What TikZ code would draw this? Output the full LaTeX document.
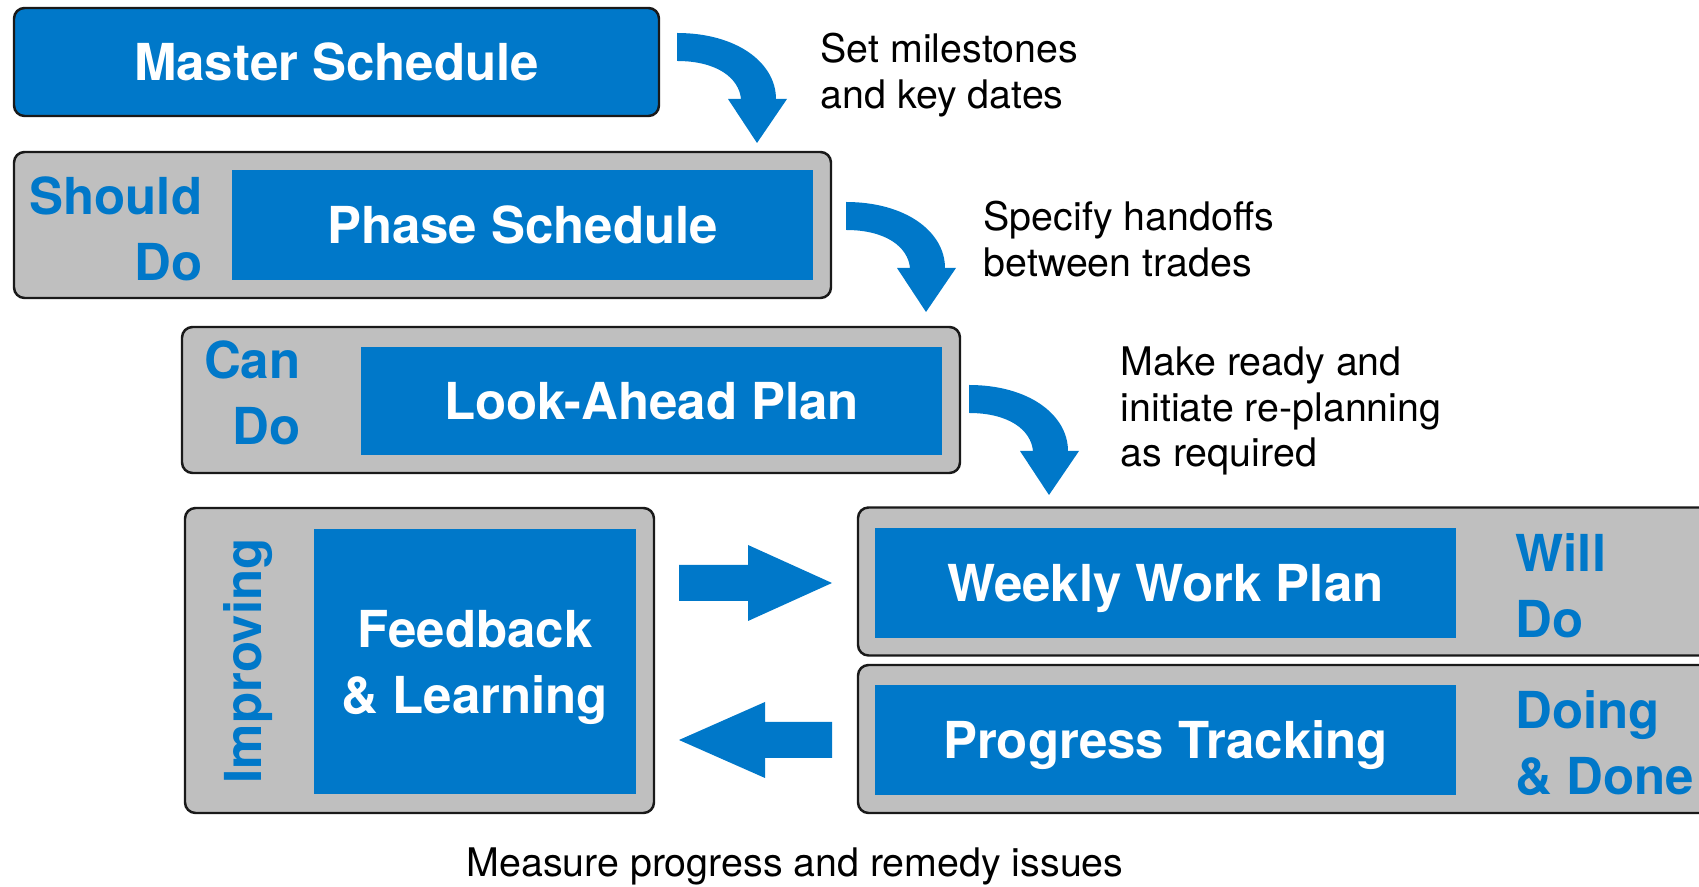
\documentclass[tikz,border=0pt]{standalone}
\usepackage{fontspec}
\setmainfont{TeX Gyre Heros}
\usepackage{tikz}
\usepackage{xcolor}
\definecolor{planblue}{RGB}{0,120,201}
\definecolor{stagegray}{RGB}{191,191,191}

\tikzset{
	stage/.style={draw=black!90, line width=0.7pt, fill=stagegray, rounded corners=3pt, inner sep=0pt},
	plan/.style={fill=planblue, text=white, inner sep=0pt, align=center, text depth=0pt, font=\bfseries\fontsize{14.5}{18.8}\selectfont},
	tag/.style={text=planblue, inner sep=0pt, font=\bfseries\fontsize{14.5}{18.8}\selectfont},
	note/.style={anchor=west, inner sep=0pt, align=left, font=\fontsize{11.2}{12.9}\selectfont},
	bandarrow/.style={fill=planblue}
}

\begin{document}
\begin{tikzpicture}[x=1cm, y=-1cm]
		\useasboundingbox (0,0) rectangle (16.99,8.87);
		\clip (0,0) rectangle (16.99,8.87);

		\node[plan, draw=black!90, line width=0.7pt, rounded corners=3pt, minimum width=6.45cm, minimum height=1.08cm] (master) at (3.365,0.62) {Master Schedule};

		\node[stage, minimum width=8.17cm, minimum height=1.46cm] (phase) at (4.225,2.25) {};
		\node[plan, minimum width=5.81cm, minimum height=1.10cm] (phaseIn) at (5.225,2.25) {Phase Schedule};
		\node[tag, align=right, anchor=east] (phaseTag) at (2.03,2.29) {Should\\Do};

		\node[stage, minimum width=7.78cm, minimum height=1.46cm] (look) at (5.71,4.00) {};
		\node[plan, minimum width=5.81cm, minimum height=1.08cm] (lookIn) at (6.515,4.01) {Look-Ahead Plan};
		\node[tag, align=right, anchor=east] (lookTag) at (3.01,3.93) {Can\\Do};

		\node[stage, minimum width=4.69cm, minimum height=3.05cm] (fbk) at (4.195,6.605) {};
		\node[plan, minimum width=3.22cm, minimum height=2.65cm] (fbkIn) at (4.75,6.615) {Feedback\\\& Learning};
		\node[tag, rotate=90] (fbkTag) at (2.485,6.61) {Improving};

		\node[stage, minimum width=8.72cm, minimum height=1.48cm] (weekly) at (12.94,5.815) {};
		\node[plan, minimum width=5.81cm, minimum height=1.10cm] (weeklyIn) at (11.655,5.83) {Weekly Work Plan};
		\node[tag, align=left, anchor=west] (weeklyTag) at (15.15,5.855) {Will\\Do};

		\node[stage, minimum width=8.72cm, minimum height=1.48cm] (prog) at (12.94,7.39) {};
		\node[plan, minimum width=5.81cm, minimum height=1.10cm] (progIn) at (11.655,7.40) {Progress Tracking};
		\node[tag, align=left, anchor=west] (progTag) at (15.15,7.435) {Doing\\\& Done};

		\node[note] (setNote) at (8.20,0.75) {Set milestones\\and key dates};
		\node[note] (handNote) at (9.83,2.39) {Specify handoffs\\between trades};
		\node[note] (readyNote) at (11.20,4.11) {Make ready and\\initiate re-planning\\as required};
		\node[font=\fontsize{11.2}{12.9}\selectfont, inner sep=0pt] (measureNote) at (7.95,8.66) {Measure progress and remedy issues};

		\coordinate (bend1) at (6.77,0.33);
		\coordinate (bend2) at (8.46,2.02);
		\coordinate (bend3) at (9.69,3.85);
		\foreach \c in {bend1,bend2,bend3}{
			\fill[bandarrow, shift={(\c)}] (0,0) .. controls (0.6,0) and (0.99,0.3) .. (0.99,0.66) -- (1.10,0.66) -- (0.80,1.10) -- (0.51,0.66) -- (0.64,0.66) .. controls (0.62,0.45) and (0.4,0.28) .. (0,0.28) -- cycle;
		}

		\coordinate (fwd) at (6.79,5.65);
		\fill[bandarrow] (fwd) -- ++(0.69,0) -- ++(0,-0.20) -- ++(0.84,0.38) -- ++(-0.84,0.38) -- ++(0,-0.20) -- ++(-0.69,0) -- cycle;
		\coordinate (back) at (6.79,7.40);
		\fill[bandarrow] (back) -- ++(0.86,-0.38) -- ++(0,0.20) -- ++(0.67,0) -- ++(0,0.36) -- ++(-0.67,0) -- ++(0,0.20) -- cycle;
\end{tikzpicture}
\end{document}
